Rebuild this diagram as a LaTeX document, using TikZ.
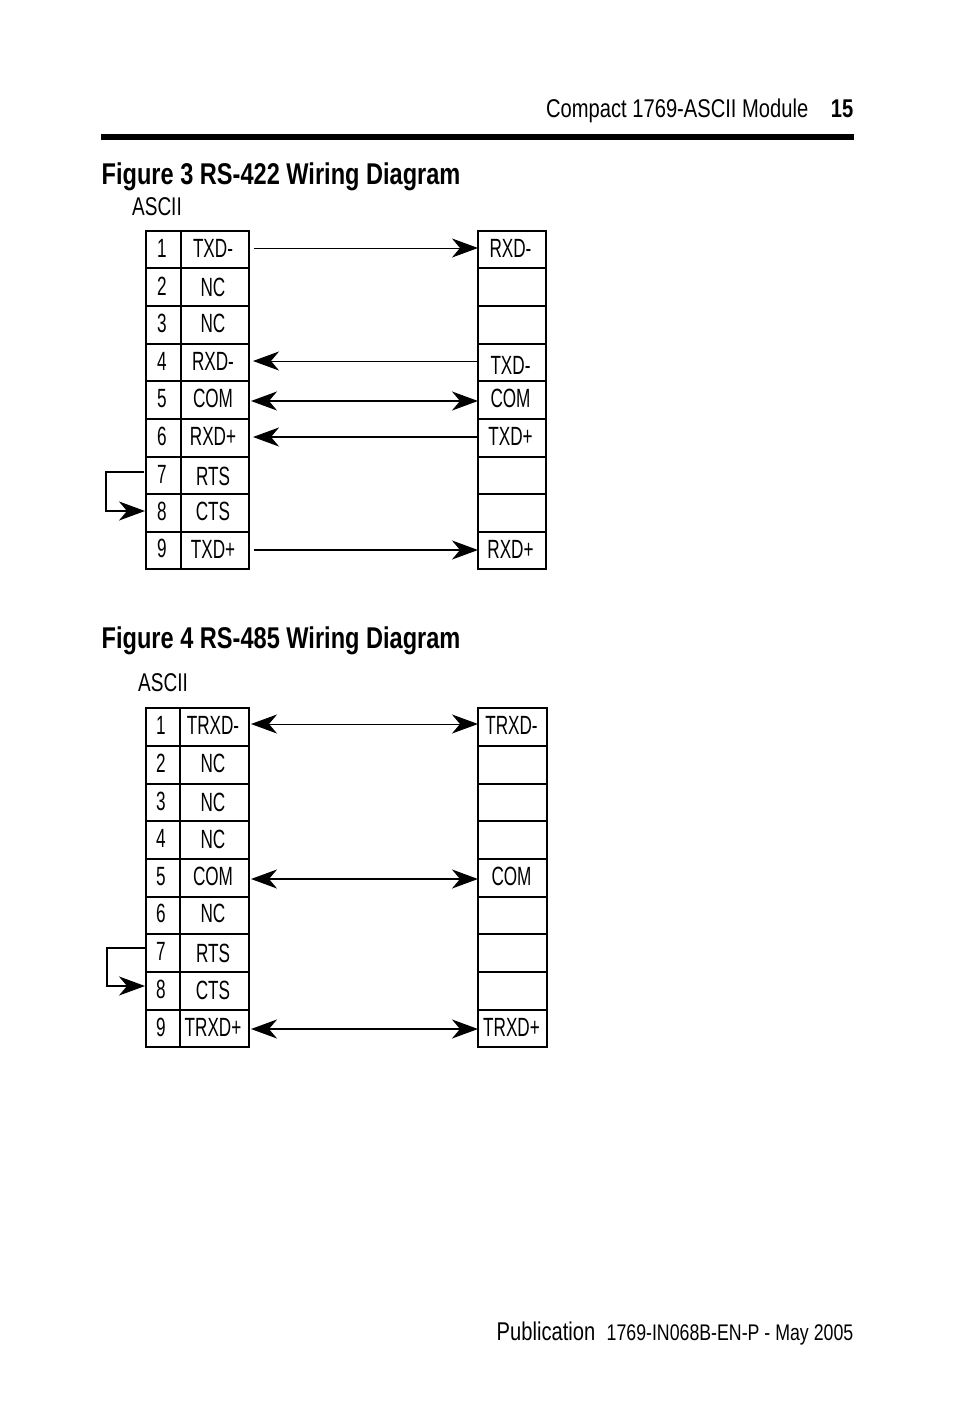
\documentclass[tikz,border=0pt]{standalone}
\usepackage{fontspec}
\setmainfont[FakeStretch=0.785]{Liberation Sans}
\newfontfamily\pinfont[FakeStretch=0.65]{Liberation Sans}
\newfontfamily\asciifont[FakeStretch=0.74]{Liberation Sans}
\usetikzlibrary{arrows.meta}
\tikzset{
	numcell/.style={rectangle,draw,line width=.55pt,inner sep=0,minimum width=.35cm},
	namecell/.style={rectangle,draw,line width=.55pt,inner sep=0,minimum width=.68cm},
	pincell/.style={rectangle,draw,line width=.55pt,inner sep=0,minimum width=.68cm},
	pinlabel/.style={inner sep=0,text height=1.8mm,text depth=0pt,font=\fontsize{7.5}{8}\selectfont\pinfont},
	heading/.style={inner sep=0,anchor=base west,font=\fontsize{8.54}{9}\selectfont\bfseries},
	plain/.style={inner sep=0,font=\fontsize{7.3}{8}\selectfont},
	thinwire/.style={line width=.28pt},
	thickwire/.style={line width=.55pt},
	tip/.tip={Stealth[length=.26cm,width=.19cm,inset=.08cm]}
}
\begin{document}
\begin{tikzpicture}[x=.01cm,y=-.01cm]
	\useasboundingbox (0,0) rectangle (954,1406);
	\node [plain,anchor=base east] (module) at (809,117) {Compact 1769-ASCII Module};
	\node [plain,anchor=base east,font=\fontsize{7.3}{8}\selectfont\bfseries] (page) at (854,117) {15};
	\coordinate (rulea) at (101,137);
	\coordinate (ruleb) at (854,137);
	\draw [line width=1.7pt] (rulea) -- (ruleb);
	\node [heading] (figa) at (101,184) {Figure 3 RS-422 Wiring Diagram};
	\node [plain,font=\fontsize{7.3}{8}\selectfont\asciifont] (asciia) at (157,207) {ASCII};
	\node [heading] (figb) at (101,648) {Figure 4 RS-485 Wiring Diagram};
	\node [plain,font=\fontsize{7.3}{8}\selectfont\asciifont] (asciib) at (163,683) {ASCII};
	\node [plain,anchor=base west] (pub) at (496,1340) {Publication};
	\node [plain,anchor=base east,font=\fontsize{6.43}{7}\selectfont] (pubno) at (854,1340) {1769-IN068B-EN-P - May 2005};

%	rows of figure 3
	\foreach \n/\ya/\yb in {1/231/268,2/268/306,3/306/344,4/344/381,5/381/419,6/419/457,7/457/494,8/494/532,9/532/569} {
		\node [numcell,minimum height={(\yb-\ya)*.01cm}] (anum\n) at (163.5,{(\ya+\yb)/2}) {};
		\node [namecell,minimum height={(\yb-\ya)*.01cm}] (aname\n) at (215,{(\ya+\yb)/2}) {};
		\node [pincell,minimum height={(\yb-\ya)*.01cm}] (apin\n) at (512,{(\ya+\yb)/2}) {};
	}
	\foreach \n/\y in {1/248,2/286,3/323,4/361,5/398,6/436,7/474,8/511,9/548}
		\node [pinlabel] (anumtxt\n) at (162,\y) {\n};
	\foreach \n/\y/\t in {1/248/TXD-,2/287/NC,3/323/NC,4/361/RXD-,5/398/COM,6/436/RXD+,7/476/RTS,8/511/CTS,9/549/TXD+}
		\node [pinlabel] (anametxt\n) at (213,\y) {\t};
	\foreach \n/\y/\t in {1/248/RXD-,4/365/TXD-,5/398/COM,6/436/TXD+,9/549/RXD+}
		\node [pinlabel] (apintxt\n) at (510.5,\y) {\t};

	\draw [thinwire,-tip] ([shift={(4,-1.5)}]aname1.east) -- ([shift={(1,-1.5)}]apin1.west);
	\draw [thinwire,tip-] ([shift={(3,-1.5)}]aname4.east) -- ([shift={(1,-1.5)}]apin4.west);
	\draw [thickwire,tip-tip] ([shift={(1,1)}]aname5.east) -- ([shift={(1,1)}]apin5.west);
	\draw [thickwire,tip-] ([shift={(3,-1)}]aname6.east) -- ([shift={(1,-1)}]apin6.west);
	\draw [thickwire,-tip] ([shift={(4,-.5)}]aname9.east) -- ([shift={(1,-.5)}]apin9.west);
	\coordinate (aloop) at (106,472);
	\draw [thickwire,-tip] ([shift={(-1,-3.5)}]anum7.west) -- (aloop) |- ([shift={(0,-2)}]anum8.west);

%	rows of figure 4
	\foreach \n/\ya/\yb in {1/708/746,2/746/784,3/784/821,4/821/859,5/859/897,6/897/934,7/934/972,8/972/1010,9/1010/1047} {
		\node [numcell,minimum height={(\yb-\ya)*.01cm},minimum width=.34cm] (bnum\n) at (163,{(\ya+\yb)/2}) {};
		\node [namecell,minimum height={(\yb-\ya)*.01cm},minimum width=.69cm] (bname\n) at (214.5,{(\ya+\yb)/2}) {};
		\node [pincell,minimum height={(\yb-\ya)*.01cm},minimum width=.69cm] (bpin\n) at (512.5,{(\ya+\yb)/2}) {};
	}
	\foreach \n/\y in {1/725,2/763,3/801,4/838,5/876,6/913,7/951,8/989,9/1027}
		\node [pinlabel] (bnumtxt\n) at (161,\y) {\n};
	\foreach \n/\y/\t in {1/725/TRXD-,2/763/NC,3/802/NC,4/839/NC,5/876/COM,6/913/NC,7/953/RTS,8/990/CTS,9/1027/TRXD+}
		\node [pinlabel] (bnametxt\n) at (213,\y) {\t};
	\foreach \n/\y/\t in {1/725/TRXD-,5/876/COM,9/1027/TRXD+}
		\node [pinlabel] (bpintxt\n) at (511.5,\y) {\t};

	\draw [thinwire,tip-tip] ([shift={(1,-3)}]bname1.east) -- ([shift={(1,-3)}]bpin1.west);
	\draw [thickwire,tip-tip] ([shift={(1,1)}]bname5.east) -- ([shift={(1,1)}]bpin5.west);
	\draw [thickwire,tip-tip] ([shift={(1,.5)}]bname9.east) -- ([shift={(1,.5)}]bpin9.west);
	\coordinate (bloop) at (107,948);
	\draw [thickwire,-tip] ([yshift=.05cm]bnum7.west) -- (bloop) |- ([shift={(0,-5)}]bnum8.west);
\end{tikzpicture}
\end{document}
